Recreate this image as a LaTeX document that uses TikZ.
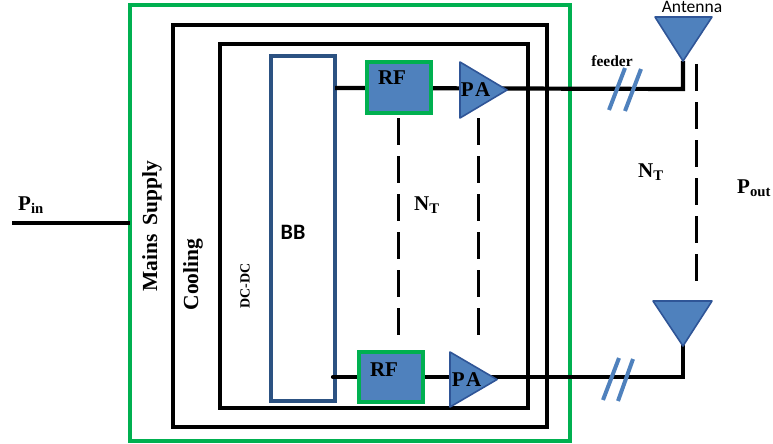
\documentclass[tikz,border=0pt]{standalone}
\usepackage{fontspec}
\setmainfont{Liberation Serif}
\newfontfamily\antfont{Carlito}
\definecolor{gbox}{HTML}{00B050}
\definecolor{bluefill}{HTML}{4F81BD}
\definecolor{blueedge}{HTML}{2F5597}
\definecolor{bbedge}{HTML}{2C5282}
\tikzset{
 x=1pt,y=-1pt,
 wire/.style={line width=4.2pt,black,line cap=round},
 frameblk/.style={draw=black,line width=3.05pt,fill=none},
 framegrn/.style={draw=gbox,line width=3.05pt,fill=none},
 rfbox/.style={draw=gbox,line width=3.05pt,fill=bluefill},
 tri/.style={draw=blueedge,line width=1.6pt,fill=bluefill,line join=round},
 slash/.style={draw=bluefill,line width=4pt},
 ndash/.style={line width=3pt,black,dash pattern=on 27pt off 11pt},
 lab/.style={inner sep=0pt},
}
\begin{document}
\begin{tikzpicture}
\useasboundingbox (0,0) rectangle (773,444);
% frames
\draw[framegrn] (130,5) rectangle (570,441);
\draw[frameblk] (173,25) rectangle (547,427);
\draw[frameblk] (220,44) rectangle (528,408);
\draw[draw=bbedge,line width=3.05pt] (271,56) rectangle (335,401);
\coordinate (bbT) at (335,88);
\coordinate (bbB) at (333,377);
\coordinate (inL) at (12,223);
\coordinate (inR) at (130,223);
\coordinate (cT) at (683,89);
\coordinate (cB) at (683,377);
% wires
\draw[wire,line cap=butt] (inL) -- (inR);
\draw[wire,line join=miter,line cap=butt] (bbT) -- (cT) -- (683,61);
\draw[wire,line join=miter] (bbB) -- (cB) -- (683,346);
% blocks
\node[rfbox,minimum width=64pt,minimum height=51pt,inner sep=0pt] (rf1) at (399,87.5) {};
\node[rfbox,minimum width=64pt,minimum height=50pt,inner sep=0pt] (rf2) at (391,377) {};
\draw[tri] (460,62) -- (507,90) -- (460,118) -- cycle;
\draw[tri] (450,352) -- (497,379.5) -- (450,407) -- cycle;
\draw[tri] (655,17) -- (712,17) -- (683,61) -- cycle;
\draw[tri] (653,301) -- (712,301) -- (683,346) -- cycle;
% feeder slashes
\draw[slash] (625,68) -- (609,110);
\draw[slash] (641,69) -- (625,111);
\draw[slash] (619,358) -- (603,400);
\draw[slash] (633,359) -- (618,401);
% dashed
\coordinate (d1a) at (398,118); \coordinate (d1b) at (398,339);
\coordinate (d2a) at (478,118); \coordinate (d2b) at (478,340);
\coordinate (d3a) at (696,64); \coordinate (d3b) at (696,288);
\draw[ndash] (d1a) -- (d1b);
\draw[ndash] (d2a) -- (d2b);
\draw[ndash] (d3a) -- (d3b);
% labels
\node[lab,font=\bfseries\fontsize{21}{21}\selectfont] (rft) at (392,78) {RF};
\node[lab,font=\bfseries\fontsize{21}{21}\selectfont] (rfb) at (384,370) {RF};
\node[lab,font=\bfseries\fontsize{21}{21}\selectfont] (pat) at (475.5,90) {P\kern1.5pt A};
\node[lab,font=\bfseries\fontsize{21}{21}\selectfont] (pab) at (466.5,380) {P\kern1.5pt A};
\node[lab,font=\antfont\bfseries\fontsize{22}{22}\selectfont] (bb) at (293,232) {BB};
\node[lab,font=\bfseries\fontsize{21}{21}\selectfont,anchor=base west] (pin) at (18,210) {P\textsubscript{in}};
\node[lab,font=\bfseries\fontsize{21}{21}\selectfont,anchor=base west] (nt1) at (414,210) {N\textsubscript{T}};
\node[lab,font=\bfseries\fontsize{21}{21}\selectfont,anchor=base west] (nt2) at (638,177) {N\textsubscript{T}};
\node[lab,font=\bfseries\fontsize{21}{21}\selectfont,anchor=base west] (pout) at (737,193) {P\textsubscript{out}};
\node[lab,font=\bfseries\fontsize{15.5}{16}\selectfont] (fd) at (612,61) {feeder};
\node[inner sep=0pt,font=\antfont\fontsize{17.5}{18}\selectfont] (ant) at (692,7) {Antenna};
\node[lab,rotate=90,font=\bfseries\fontsize{21.5}{22}\selectfont] (ms) at (152,226) {Mains\ \,Supply};
\node[lab,rotate=90,font=\bfseries\fontsize{21.5}{22}\selectfont] (cool) at (193,274.5) {Cooling};
\node[lab,rotate=90,font=\bfseries\fontsize{14}{14}\selectfont] (dc) at (245,286) {DC-DC};
\end{tikzpicture}
\end{document}
